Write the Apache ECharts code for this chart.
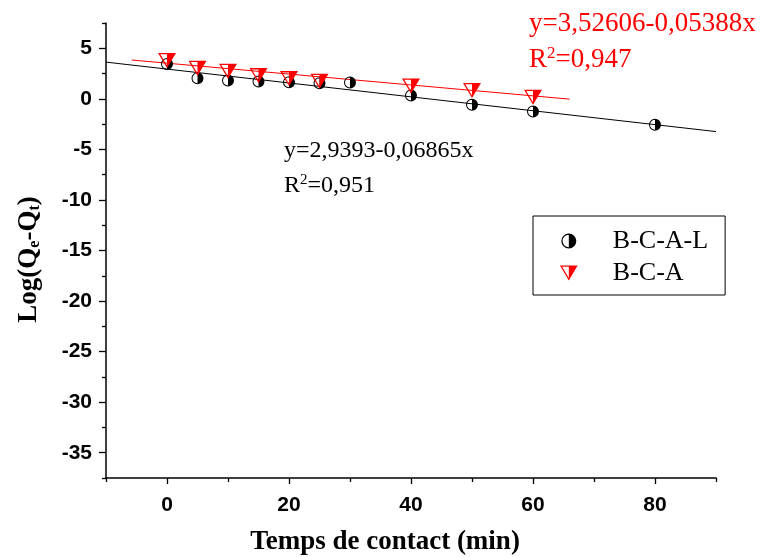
<!DOCTYPE html>
<html><head><meta charset="utf-8">
<script src="https://cdn.jsdelivr.net/npm/echarts@6/dist/echarts.min.js"></script>
<style>html,body{margin:0;padding:0;background:#fff}#c{width:761px;height:557px}</style>
</head><body><div id="c"></div>
<script>
// Data
const timeBCAL = [0, 5, 10, 15, 20, 25, 30, 40, 50, 60, 80];
const logBCAL = [3.45, 2.03, 1.81, 1.71, 1.64, 1.54, 1.61, 0.33, -0.59, -1.25, -2.57];
const timeBCA = [0, 5, 10, 15, 20, 25, 40, 50, 60];
const logBCA = [3.8, 3.02, 2.73, 2.3, 2.0, 1.74, 1.28, 0.82, 0.16];
// Fit line end points
const fitBCALx = [-10, 90];
const fitBCALy = [3.63, -3.24];
const fitBCAx = [-5.8, 66];
const fitBCAy = [3.84, -0.03];
// Tick values
const xMajor = [0, 20, 40, 60, 80];
const xMinor = [-10, 10, 30, 50, 70, 90];
const yMajor = [5, 0, -5, -10, -15, -20, -25, -30, -35];
const yMinor = [7.5, 2.5, -2.5, -7.5, -12.5, -17.5, -22.5, -27.5, -32.5, -37.5];
const seriesNames = ['B-C-A-L', 'B-C-A'];

const circlePath = 'path://M10,0 A10,10 0 1,1 10,20 A10,10 0 1,1 10,0 Z M10,1.7 A8.3,8.3 0 1,0 10,18.3 A8.3,8.3 0 1,0 10,1.7 Z M10,0 A10,10 0 0,1 10,20 Z';
const triPath = 'path://M0,0 L20,0 L10,17 Z M2.5,1.5 L10,14.2 L17.5,1.5 Z M10,0 L20,0 L10,17 Z';

const zip = (a, b) => a.map((v, i) => [v, b[i]]);
const serif = 'Liberation Serif';
const sans = 'Liberation Sans';

const chart = echarts.init(document.getElementById('c'));
const grid = {left: 106, right: 45, top: 23, bottom: 79, containLabel: false, outerBoundsMode: 'none'};
chart.setOption({
  backgroundColor: '#fff',
  animation: false,
  grid: [grid],
  xAxis: [{
    type: 'value', min: -10, max: 90, interval: 10,
    name: 'Temps de contact (min)', nameLocation: 'middle', nameGap: 51,
    nameTextStyle: {fontFamily: serif, fontWeight: 'bold', fontSize: 27, color: '#000', padding: [0, 52, 0, 0]},
    axisLine: {onZero: false, lineStyle: {color: '#000', width: 1.5}},
    axisTick: {inside: false, length: 6, lineStyle: {color: '#000', width: 1.3}, customValues: xMajor},
    axisLabel: {customValues: xMajor, margin: 17, fontFamily: sans, fontWeight: 'bold', fontSize: 21, color: '#000'},
    splitLine: {show: false}
  }, {
    type: 'value', min: -10, max: 90, position: 'bottom', gridIndex: 0,
    axisLine: {show: false, onZero: false},
    axisTick: {length: 4, lineStyle: {color: '#000', width: 1.3}, customValues: xMinor},
    axisLabel: {show: false}, splitLine: {show: false}
  }],
  yAxis: [{
    type: 'value', min: -37.5, max: 7.5, interval: 2.5,
    name: 'Log(Q{sub|e}-Q{sub|t})', nameLocation: 'middle', nameGap: 63,
    nameTextStyle: {fontFamily: serif, fontWeight: 'bold', fontSize: 27, color: '#000', padding: [0, 18, 0, 0],
      rich: {sub: {fontFamily: serif, fontWeight: 'bold', fontSize: 16, color: '#000', padding: [12, 0, 0, 0]}}},
    axisLine: {onZero: false, lineStyle: {color: '#000', width: 1.5}},
    axisTick: {length: 7, lineStyle: {color: '#000', width: 1.3}, customValues: yMajor},
    axisLabel: {customValues: yMajor, margin: 14, fontFamily: sans, fontWeight: 'bold', fontSize: 21, color: '#000'},
    splitLine: {show: false}
  }, {
    type: 'value', min: -37.5, max: 7.5, position: 'left', gridIndex: 0,
    axisLine: {show: false, onZero: false},
    axisTick: {length: 4, lineStyle: {color: '#000', width: 1.3}, customValues: yMinor},
    axisLabel: {show: false}, splitLine: {show: false}
  }],
  legend: {
    orient: 'vertical', left: 533, top: 216,
    padding: [12, 17, 9, 27], itemGap: 6,
    borderColor: '#000', borderWidth: 1,
    itemWidth: 18, itemHeight: 15,
    textStyle: {fontFamily: serif, fontSize: 26, color: '#000', padding: [0, 0, 0, 30]},
    data: [
      {name: seriesNames[0], icon: circlePath, itemStyle: {color: '#000', opacity: 1}},
      {name: seriesNames[1], icon: triPath, itemStyle: {color: '#ff0000', opacity: 1}}
    ]
  },
  series: [
    {type: 'line', data: zip(fitBCALx, fitBCALy), symbol: 'none', lineStyle: {color: '#000', width: 1}, z: 1, silent: true},
    {type: 'line', data: zip(fitBCAx, fitBCAy), symbol: 'none', lineStyle: {color: '#ff0000', width: 1}, z: 1, silent: true},
    {name: seriesNames[0], type: 'scatter', data: zip(timeBCAL, logBCAL), symbol: circlePath, symbolSize: [12, 12],
      itemStyle: {color: '#000', opacity: 1}, z: 3},
    {name: seriesNames[1], type: 'scatter', data: zip(timeBCA, logBCA), symbol: triPath, symbolSize: [18, 15],
      itemStyle: {color: '#ff0000', opacity: 1}, z: 4}
  ],
  graphic: [
    {type: 'text', left: 284, top: 139, style: {text: 'y=2,9393-0,06865x', fontFamily: serif, fontSize: 24, fill: '#000'}},
    {type: 'text', left: 284, top: 173, style: {text: 'R{sup|2}=0,951', fontFamily: serif, fontSize: 24, fill: '#000',
      rich: {sup: {fontFamily: serif, fontSize: 15, fill: '#000', padding: [0, 0, 11, 0]}}}},
    {type: 'text', left: 529, top: 10, style: {text: 'y=3,52606-0,05388x', fontFamily: serif, fontSize: 27, fill: '#ff0000'}},
    {type: 'text', left: 529, top: 45, style: {text: 'R{sup|2}=0,947', fontFamily: serif, fontSize: 27, fill: '#ff0000',
      rich: {sup: {fontFamily: serif, fontSize: 17, fill: '#ff0000', padding: [0, 0, 12, 0]}}}}
  ]
});
</script></body></html>
